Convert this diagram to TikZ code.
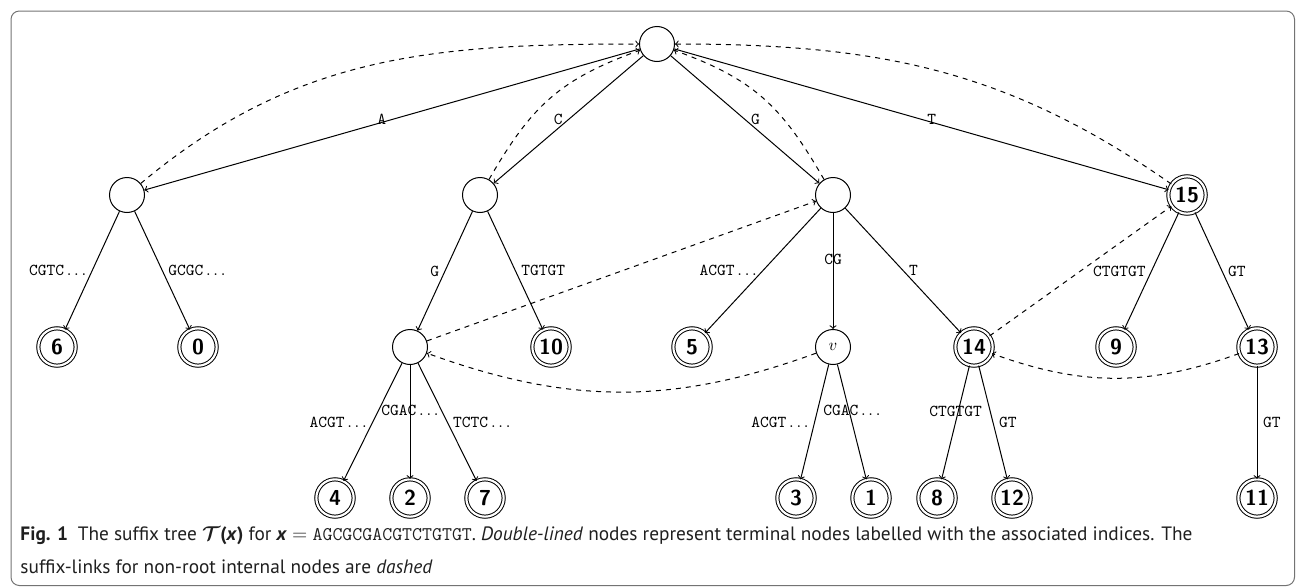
\documentclass[tikz,border=0pt]{standalone}
\usepackage{fontspec}
\usepackage{bm}
\newfontfamily\capfont{PT Sans}
\tikzset{>=to}
\colorlet{framecol}{black!55}
\colorlet{capcol}{black!88}
\tikzstyle{intnode}=[circle,draw,minimum size=21pt,inner sep=0pt]
\tikzstyle{termnode}=[circle,draw,double,double distance=1.3pt,minimum size=22.4pt,inner sep=0pt,font=\sffamily\bfseries\fontsize{13}{15}\selectfont]
\tikzstyle{lab}=[font=\ttfamily,inner sep=3.3pt]
\tikzset{
  tedge/.style={->},
  slink/.style={->,dashed},
  captext/.style={anchor=base west,inner sep=0pt,text=capcol,font=\capfont\fontsize{11.6}{14}\selectfont}
}
\newcommand\dts{$\,\ldots$}

\begin{document}
\begin{tikzpicture}[x=0.6pt,y=-0.6pt,line width=0.6pt]
  \useasboundingbox (0,0) rectangle (1296,586);
  \draw[framecol,rounded corners=5pt] (11,11) rectangle (1294.5,585.5);
  \def\ya{44}
  \def\yb{195}
  \def\yc{347}
  \def\yd{498}

  % NODES
  \node[intnode] (root) at (657,\ya) {};
  \node[intnode] (nA) at (127,\yb) {};
  \node[intnode] (nC) at (480,\yb) {};
  \node[intnode] (nG) at (833,\yb) {};
  \node[termnode] (n15) at (1187,\yb) {15};
  \node[termnode] (n6) at (57,\yc) {6};
  \node[termnode] (n0) at (198,\yc) {0};
  \node[intnode] (nCG) at (410,\yc) {};
  \node[termnode] (n10) at (551,\yc) {10};
  \node[termnode] (n5) at (692,\yc) {5};
  \node[intnode] (nv) at (833,\yc) {$v$};
  \node[termnode] (n14) at (974,\yc) {14};
  \node[termnode] (n9) at (1116,\yc) {9};
  \node[termnode] (n13) at (1257,\yc) {13};
  \node[termnode] (n4) at (335,\yd) {4};
  \node[termnode] (n2) at (410,\yd) {2};
  \node[termnode] (n7) at (485,\yd) {7};
  \node[termnode] (n3) at (796,\yd) {3};
  \node[termnode] (n1) at (871,\yd) {1};
  \node[termnode] (n8) at (937,\yd) {8};
  \node[termnode] (n12) at (1012,\yd) {12};
  \node[termnode] (n11) at (1257,\yd) {11};

  % TREE EDGES
  \draw[tedge] (root) -- node[lab,left] (lA) {A} (nA);
  \draw[tedge] (root) -- node[lab,left] (lC) {C} (nC);
  \draw[tedge] (root) -- node[lab,right] (lG) {G} (nG);
  \draw[tedge] (root) -- node[lab,right] (l15) {T} (n15);
  \draw[tedge] (nA) -- node[lab,left] (l6) {CGTC\dts} (n6);
  \draw[tedge] (nA) -- node[lab,right] (l0) {GCGC\dts} (n0);
  \draw[tedge] (nC) -- node[lab,left] (lCG) {G} (nCG);
  \draw[tedge] (nC) -- node[lab,right] (l10) {TGTGT} (n10);
  \draw[tedge] (nG) -- node[lab,left] (l5) {ACGT\dts} (n5);
  \draw[tedge] (nG) -- node[lab,above] (lv) {CG} (nv);
  \draw[tedge] (nG) -- node[lab,right] (l14) {T} (n14);
  \draw[tedge] (n15) -- node[lab,left] (l9) {CTGTGT} (n9);
  \draw[tedge] (n15) -- node[lab,right] (l13) {GT} (n13);
  \draw[tedge] (nCG) -- node[lab,left] (l4) {ACGT\dts} (n4);
  \draw[tedge] (nCG) -- node[lab,above] (l2) {CGAC\dts} (n2);
  \draw[tedge] (nCG) -- node[lab,right] (l7) {TCTC\dts} (n7);
  \draw[tedge] (nv) -- node[lab,left] (l3) {ACGT\dts} (n3);
  \draw[tedge] (nv) -- node[lab,above] (l1) {CGAC\dts} (n1);
  \draw[tedge] (n14) -- node[lab,above] (l8) {CTGTGT} (n8);
  \draw[tedge] (n14) -- node[lab,right] (l12) {GT} (n12);
  \draw[tedge] (n13) -- node[lab,right] (l11) {GT} (n11);

  % SUFFIX LINKS
  \draw[slink] (nA) to[out=40,in=180] (root);
  \draw[slink] (nC) to[out=60,in=200,looseness=1.1] (root);
  \draw[slink] (nG) to[out=120,in=-20,looseness=1.1] (root);
  \draw[slink] (n15) to[out=145,in=0] (root);
  \draw[slink] (nCG) -- (nG);
  \draw[slink] (nv) to[bend left=20] (nCG);
  \draw[slink] (n14) -- (n15);
  \draw[slink] (n13) to[bend left=20] (n14);

  % CAPTION
  \node[captext] (cap1) at (20,540) {\textbf{Fig. 1}\enspace The suffix tree $\bm{\mathcal{T}}$\textbf{(\textit{x})} for \textbf{\textit{x}} $=$ \texttt{AGCGCGACGTCTGTGT}. \textit{Double-lined} nodes represent terminal nodes labelled with the associated indices. The};
  \node[captext] (cap2) at (20,573) {suffix-links for non-root internal nodes are \textit{dashed}};
\end{tikzpicture}
\end{document}
